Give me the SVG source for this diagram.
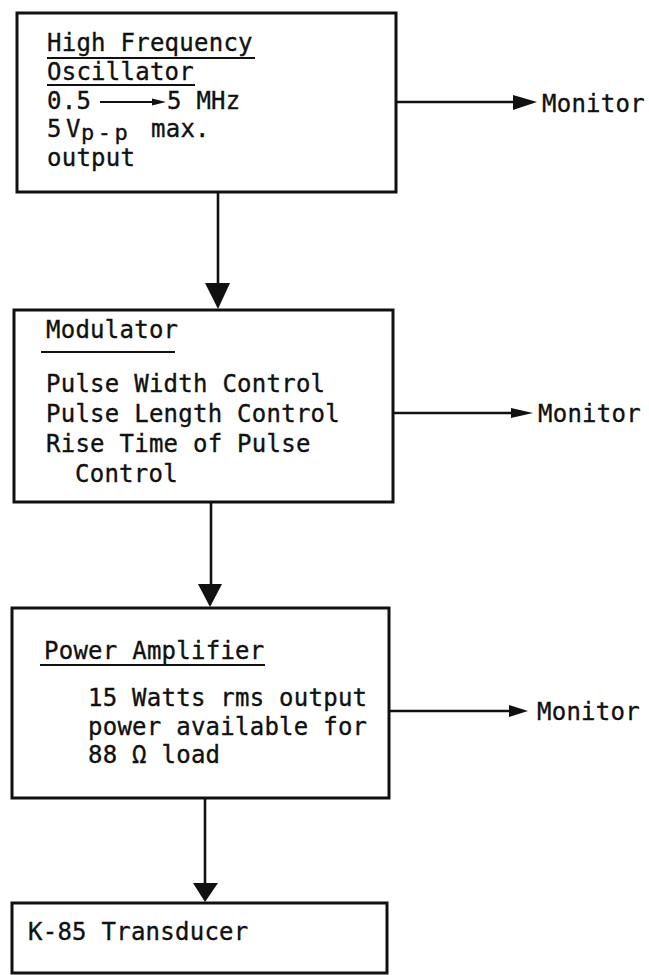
<svg xmlns="http://www.w3.org/2000/svg" width="649" height="975" viewBox="0 0 649 975">
<style>
.box{fill:none;stroke:#111;stroke-width:3}
.t{font-family:"DejaVu Sans Mono","Liberation Mono",monospace;font-size:24px;letter-spacing:0.25px;fill:#111;stroke:#111;stroke-width:0.35}
.ul{stroke:#111;stroke-width:2}
.c{stroke:#111;stroke-width:2.6;fill:none}
.ah{fill:#111}
</style>
<rect width="649" height="975" fill="#fff"/>
<g id="oscillator">
<rect class="box" x="17" y="13" width="379" height="179"/>
<text class="t" x="47" y="51">High Frequency</text>
<line class="ul" x1="47" y1="58" x2="255" y2="58"/>
<text class="t" x="47" y="80">Oscillator</text>
<line class="ul" x1="47" y1="85" x2="195" y2="85"/>
<text class="t" x="47" y="109">0.5</text>
<line class="ul" x1="100" y1="102" x2="157" y2="102" style="stroke-width:2"/>
<polygon class="ah" points="152,98.5 166,102 152,105.5"/>
<text class="t" x="167" y="109">5 MHz</text>
<text class="t" x="47" y="137">5<tspan x="66">V</tspan><tspan x="81" y="140" style="font-size:22px;letter-spacing:3.5px">p-p</tspan><tspan x="151" y="137">max.</tspan></text>
<text class="t" x="47" y="166">output</text>
</g>
<g id="modulator">
<rect class="box" x="14" y="310" width="379" height="192"/>
<text class="t" x="46" y="338">Modulator</text>
<line class="ul" x1="41" y1="352" x2="175" y2="352"/>
<text class="t" x="46" y="392">Pulse Width Control</text>
<text class="t" x="46" y="422">Pulse Length Control</text>
<text class="t" x="46" y="452">Rise Time of Pulse</text>
<text class="t" x="75" y="482">Control</text>
</g>
<g id="amplifier">
<rect class="box" x="12" y="608" width="377" height="190"/>
<text class="t" x="44" y="659">Power Amplifier</text>
<line class="ul" x1="40" y1="665" x2="265" y2="665"/>
<text class="t" x="88" y="706">15 Watts rms output</text>
<text class="t" x="88" y="735">power available for</text>
<text class="t" x="88" y="763">88 Ω load</text>
</g>
<g id="transducer">
<rect class="box" x="12" y="903" width="375" height="70"/>
<text class="t" x="28" y="940">K-85 Transducer</text>
</g>
<g id="monitor1"><text class="t" x="542" y="112">Monitor</text></g>
<g id="monitor2"><text class="t" x="538" y="422">Monitor</text></g>
<g id="monitor3"><text class="t" x="537" y="720">Monitor</text></g>
<g id="connectors">
<line class="c" x1="396" y1="102" x2="516" y2="102"/>
<polygon class="ah" points="513,95 537,102 513,110"/>
<line class="c" x1="393" y1="413" x2="515" y2="413"/>
<polygon class="ah" points="511,408 533,413 511,418"/>
<line class="c" x1="389" y1="711" x2="512" y2="711"/>
<polygon class="ah" points="509,705 528,711 509,717"/>
<line class="c" x1="218" y1="192" x2="218" y2="288"/>
<polygon class="ah" points="205,283 230,283 218,309"/>
<line class="c" x1="211" y1="502" x2="211" y2="588"/>
<polygon class="ah" points="198,584 222,584 210,607"/>
<line class="c" x1="205" y1="798" x2="205" y2="885"/>
<polygon class="ah" points="193,883 218,883 205,902"/>
</g>
</svg>
